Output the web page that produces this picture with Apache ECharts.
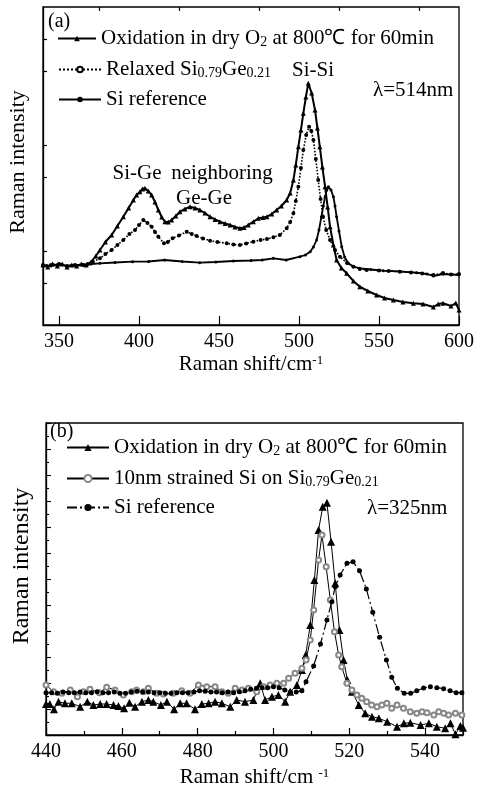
<!DOCTYPE html>
<html>
<head>
<meta charset="utf-8">
<script src="https://cdn.jsdelivr.net/npm/echarts@6/dist/echarts.min.js"></script>
<style>
  html, body { margin: 0; padding: 0; background: #fff; }
  #chart { width: 477px; height: 789px; }
</style>
</head>
<body>
<div id="chart"></div>
<script>
var FONT = 'Liberation Serif';

// ---- panel (a): 514 nm ----
var ticksA = [350, 400, 450, 500, 550, 600];
var minorTicksA = [375, 425, 475, 525, 575];
var yTicksA = [42, 74, 148, 180, 254, 286];

var oxA = [[340,60],[343,58],[346,61],[349,59],[352,61],[355,58],[358,60],[361,59],[364,61],[367,60],[370,63],[373,69],[375.6,75],[379,83],[382.9,90],[386.5,99],[390.2,108.3],[393.5,117],[396.5,125],[398.5,130],[400.6,133.3],[402.2,136],[403.7,136.7],[405.8,134],[407.9,130],[410,123],[412.1,115],[414.2,108],[416.2,103.3],[418.3,103],[420.4,105],[423,109],[425.6,113.3],[428.7,116],[431.9,118.3],[435,117],[438.1,115],[441.2,112],[444.4,108.3],[447.5,105.5],[450.6,103.3],[453.8,101.5],[456.9,100],[460,98],[463.1,96.7],[465.7,97.5],[468.3,100],[471.5,103.3],[474.6,106.7],[477.5,107.5],[480,108.3],[483,111],[486,115],[489,119],[492.3,125],[494.5,132],[496.5,145],[498,160],[499.6,178.3],[501.2,195],[502.7,211.7],[504.3,228],[505.8,241.7],[507.9,232],[510,215],[511.5,197],[513,178.3],[514.6,158],[516.3,138.3],[517.9,118],[519.4,98.3],[521.5,80],[523.5,65],[526.5,57],[529.8,51.7],[534,44],[538,38.3],[543,34],[548.5,30],[553.5,27],[559,25],[565,23],[571.5,21.7],[577.5,21],[584,18],[587,21],[590,21.7],[595,19],[598,22],[600,15]];

var relA = [[340,60],[345,60],[350,61],[355,59],[360,60],[365,60],[368,61],[371,63],[375.6,66.7],[379,71],[382.9,75],[386.5,80],[390.2,85],[394,91],[397.5,95],[400,100],[402.7,105],[405.3,102],[407.9,98.3],[410,93],[412.1,88.3],[415.6,81.7],[418,83],[421,86.7],[425,89.5],[429.8,93.3],[433,91],[436,89],[440,86.5],[444.4,84.3],[449,83],[454.8,81.7],[459,80.5],[463.1,80],[467,81.5],[471.5,83.3],[476,85],[480,86],[484,87.7],[488,90],[492.3,96.7],[494.5,103],[496.5,111.7],[498,124],[499.6,138.3],[501.2,157],[502.7,175],[504.5,190],[506.3,198.3],[507.7,194],[509,185],[510.5,166],[512,145],[513.5,126],[515,108.3],[517,95],[519.4,85],[522.5,75],[525.6,68.3],[530,62],[534,58.3],[538,56],[542.3,55],[550,54.5],[556,54],[563,53.3],[570,52.5],[577,51.5],[584,50],[590,52],[595,50.5],[600,51]];

var siA = [[340,60],[345,59],[350,61],[355,59],[360,60],[365,60],[370,61],[375.6,61.7],[385,62.5],[396,63.3],[406,63.5],[416,65],[427,63.5],[438,62.3],[448,63],[459,64],[470,64.5],[477,65],[484,66.7],[492,65],[500.6,68.3],[504,70],[507,73.3],[509,78],[511,85],[512.5,95],[514,108.3],[515.2,119],[516.3,128.3],[517.4,135],[518.4,138.3],[520,135],[521.5,128.3],[522.5,119],[523.5,108.3],[525,94],[526.7,78.3],[528.5,68],[530.8,61.7],[534,58.5],[538,56.7],[545,55.5],[552.7,54.3],[563,53.5],[573.5,52.3],[580,51],[584,49],[590,51],[595,50.5],[600,50]];

// ---- panel (b): 325 nm ----
var oxB = [[440,31],[441,31],[442.1,25.7],[443.3,33.3],[445,31.7],[446.8,31.7],[449,28.3],[450.9,33.3],[452.5,30],[454.3,31],[456,31],[457.8,30],[459.1,29],[460.6,26.7],[462,32.3],[463.5,28.3],[465.3,33.3],[467,35],[468.3,33.3],[470.3,30],[471.9,33.3],[473.8,25.7],[475.4,31.7],[477.1,31.7],[479.3,25.7],[481.1,31],[482.9,31.7],[484.6,33.3],[486.4,31.7],[488.6,28.3],[490.3,35],[492.5,33.3],[494.7,35],[496.5,51.7],[497.8,35],[499.6,38.3],[501.3,40],[503.1,33.3],[504.4,43.3],[506.2,50],[507.5,65],[508.5,80],[509.7,110],[510.8,155],[511.9,205],[513,228.3],[514.1,232.3],[515.2,193.3],[516.3,151.7],[517.4,105],[518.5,75],[519.5,55],[520.7,43.3],[522.5,30],[524.2,21.7],[526,18.3],[527.8,16.7],[530,13.3],[532.6,8.3],[534.4,11.7],[536.1,12.3],[538.8,10],[541,11.7],[543.1,8.3],[545.3,6.7],[546.7,11.7],[548,0.7],[549.3,9],[550,7.3]];

var strB = [[440,50],[442,43.3],[444.2,41.7],[446.4,45],[448.3,38.3],[449.9,43.3],[451.6,45.7],[454.1,42.3],[456,47.7],[458.2,45],[460.4,40],[462.6,43.3],[463.9,45],[465.7,43.3],[467,46.7],[469.2,41.7],[471,41],[473.6,41.7],[475.8,44.3],[478,41.7],[480.2,50],[482.4,48.3],[484.6,48.3],[486.4,43.3],[488.1,41.7],[489.9,46.7],[491.7,45],[493.4,46.7],[495.6,43.3],[497.4,48.3],[499.1,50],[500.9,51.7],[502.7,51.7],[504,56.7],[505.7,61.7],[507.5,66.7],[508.6,75],[509.7,95],[510.6,125],[511.9,175],[512.8,200],[513.9,168.3],[515,135],[516.1,103.3],[517.2,80],[518,68.3],[519.4,51.7],[520.7,45],[522,40],[523.3,36.7],[524.6,33.3],[525.9,30],[527.3,28.3],[528.6,30],[529.9,31.7],[531.2,26.7],[532.6,30],[534.3,26.7],[536.1,23.3],[537.8,21.7],[539.2,23.3],[540.5,22.3],[542.3,20],[543.6,23.3],[544.9,21.7],[546.2,20],[548,21.7],[549.7,20]];

var siB = [[440,42.3],[441.5,42.3],[443,41.7],[444.5,43],[446,42.3],[447.5,42.3],[449,43],[450.5,42.3],[452,42.3],[453.5,43.3],[455,42.3],[456.5,42.3],[458,43],[459.5,41.7],[461,41.7],[462.5,43],[464,43.7],[465.5,43],[467,43],[468.5,42.3],[470,42.3],[471.5,41.7],[473,41.7],[474.5,42.3],[476,42.3],[477.5,42.3],[479,43],[480.5,44.3],[482,43.7],[483.5,43],[485,43],[486.5,42.3],[488,43],[489.5,42.3],[491,43.3],[492.5,44.3],[494,45.7],[495.5,46.7],[497,47.3],[498.5,47.3],[500,48.3],[501.5,47.3],[503,45],[504.5,43],[506,43],[507.5,44.3],[508.6,53.3],[510.6,69],[512.4,91],[514.1,115],[515.4,133.3],[516.3,148.3],[517.6,160],[519.4,171.7],[521,173.3],[522.7,164.3],[524.5,146],[526.2,122.7],[528,97.7],[529.8,75],[531.2,57.7],[532.7,46.7],[534.5,41.7],[536.2,41.7],[537.8,44.3],[539.6,47],[541.4,48.3],[543.1,47.3],[544.9,46.3],[546.6,44.3],[548.2,42.3],[549.7,42.3]];

var legendA = [
  ['oxA', 'Oxidation in dry O{sub|2} at 800℃ for 60min'],
  ['relA', 'Relaxed Si{sub|0.79}Ge{sub|0.21}'],
  ['siA', 'Si reference']
];
var legendB = [
  ['oxB', 'Oxidation in dry O{sub|2} at 800℃ for 60min'],
  ['strB', '10nm strained Si on Si{sub|0.79}Ge{sub|0.21}'],
  ['siB', 'Si reference']
];

var chart = echarts.init(document.getElementById('chart'), null, { renderer: 'canvas' });

var richText = {
  sub: { fontSize: 14, fontFamily: FONT, color: '#000', verticalAlign: 'bottom', padding: [8, 0, 0, 0] },
  sup: { fontSize: 13, fontFamily: FONT, color: '#000', verticalAlign: 'top' }
};

// one legend block per row so each row sits where it does in the figure
function makeLegend(items, pos, h) {
  return items.map(function(it, i) {
    return {
      data: [it[0]],
      left: pos[i][0],
      top: pos[i][1],
      padding: 0,
      itemWidth: pos[i][2],
      itemHeight: h,
      selectedMode: false,
      formatter: function() { return it[1]; },
      textStyle: { fontFamily: FONT, fontSize: 21, color: '#000', rich: richText }
    };
  });
}

var axisLineStyle = { color: '#000', width: 1.3 };

var option = {
  backgroundColor: '#fff',
  animation: false,
  textStyle: { fontFamily: FONT },
  grid: [
    { left: 43, top: 7, width: 416, height: 318, show: true, borderColor: '#000', borderWidth: 1.3 },
    { left: 46, top: 423, width: 417, height: 312, show: true, borderColor: '#000', borderWidth: 1.3 }
  ],
  legend: makeLegend(legendA, [[57, 28, 38], [58, 59, 42], [58, 89, 42]], 7)
    .concat(makeLegend(legendB, [[66, 437, 42], [66, 468, 42], [66, 497, 42]], 9)),
  xAxis: [
    {
      type: 'value', gridIndex: 0, min: 340, max: 600,
      splitLine: { show: false },
      axisLine: { lineStyle: axisLineStyle },
      axisTick: { inside: true, length: 9, customValues: ticksA, lineStyle: { color: '#000', width: 1.2 } },
      axisLabel: { customValues: ticksA, margin: 7, fontSize: 20, fontFamily: FONT, color: '#000' },
      name: 'Raman shift/cm{sup|-1}', nameLocation: 'middle', nameGap: 29,
      nameTextStyle: { fontSize: 21, fontFamily: FONT, color: '#000', rich: richText }
    },
    {
      type: 'value', gridIndex: 0, min: 340, max: 600,
      splitLine: { show: false },
      axisLine: { show: false },
      axisTick: { inside: true, length: 4, customValues: minorTicksA, lineStyle: { color: '#000', width: 1.2 } },
      axisLabel: { show: false }
    },
    {
      type: 'value', gridIndex: 1, min: 440, max: 550, interval: 20,
      splitLine: { show: false },
      axisLine: { lineStyle: axisLineStyle },
      axisTick: { inside: true, length: 7, lineStyle: { color: '#000', width: 1.2 } },
      minorTick: { show: true, splitNumber: 2, length: 4, lineStyle: { color: '#000', width: 1.2 } },
      minorSplitLine: { show: false },
      axisLabel: { margin: 7, fontSize: 20, fontFamily: FONT, color: '#000', showMaxLabel: false },
      name: 'Raman shift/cm {sup|-1}', nameLocation: 'middle', nameGap: 32,
      nameTextStyle: { fontSize: 21, fontFamily: FONT, color: '#000', rich: richText }
    }
  ],
  yAxis: [
    {
      type: 'value', gridIndex: 0, min: 0, max: 318,
      splitLine: { show: false },
      axisLine: { lineStyle: axisLineStyle },
      axisTick: { inside: true, length: 4, customValues: yTicksA, lineStyle: { color: '#000', width: 1.2 } },
      axisLabel: { show: false }
    },
    {
      type: 'value', gridIndex: 1, min: 0, max: 312, interval: 26,
      splitLine: { show: false },
      axisLine: { lineStyle: axisLineStyle },
      axisTick: { inside: true, length: 5, lineStyle: { color: '#000', width: 1.1 } },
      minorTick: { show: true, splitNumber: 2, length: 3, lineStyle: { color: '#000', width: 1.1 } },
      minorSplitLine: { show: false },
      axisLabel: { show: false }
    }
  ],
  series: [
    {
      name: 'oxA', type: 'line', xAxisIndex: 0, yAxisIndex: 0, data: oxA,
      symbol: 'triangle', symbolSize: 5, itemStyle: { color: '#000' },
      lineStyle: { color: '#000', width: 2 }
    },
    {
      name: 'relA', type: 'line', xAxisIndex: 0, yAxisIndex: 0, data: relA,
      symbol: 'emptyCircle', symbolSize: 2, itemStyle: { color: '#000', borderWidth: 0.8 },
      lineStyle: { color: '#000', width: 1.6, type: 'dotted' }
    },
    {
      name: 'siA', type: 'line', xAxisIndex: 0, yAxisIndex: 0, data: siA,
      symbol: 'circle', symbolSize: 3, itemStyle: { color: '#000' },
      lineStyle: { color: '#000', width: 1.8 }
    },
    {
      name: 'oxB', type: 'line', xAxisIndex: 2, yAxisIndex: 1, data: oxB,
      symbol: 'triangle', symbolSize: 8, itemStyle: { color: '#000' },
      lineStyle: { color: '#000', width: 1 }
    },
    {
      name: 'strB', type: 'line', xAxisIndex: 2, yAxisIndex: 1, data: strB,
      symbol: 'emptyCircle', symbolSize: 5, itemStyle: { color: '#888', borderWidth: 1 },
      lineStyle: { color: '#000', width: 1 }
    },
    {
      name: 'siB', type: 'line', xAxisIndex: 2, yAxisIndex: 1, data: siB,
      symbol: 'circle', symbolSize: 5, itemStyle: { color: '#000' },
      lineStyle: { color: '#000', width: 1.2, type: [10, 3, 2, 3] }
    }
  ],
  graphic: [
    { type: 'text', x: 18, y: 162, rotation: Math.PI / 2,
      style: { text: 'Raman intensity', fontSize: 22, fontFamily: FONT, fill: '#000', align: 'center', verticalAlign: 'middle' } },
    { type: 'text', x: 22, y: 566, rotation: Math.PI / 2,
      style: { text: 'Raman intensity', fontSize: 24, fontFamily: FONT, fill: '#000', align: 'center', verticalAlign: 'middle' } },
    { type: 'text', x: 48, y: 22, style: { text: '(a)', fontSize: 20, fontFamily: FONT, fill: '#000', align: 'left', verticalAlign: 'middle' } },
    { type: 'text', x: 313, y: 70, style: { text: 'Si-Si', fontSize: 21, fontFamily: FONT, fill: '#000', align: 'center', verticalAlign: 'middle' } },
    { type: 'text', x: 373, y: 90, style: { text: 'λ=514nm', fontSize: 21, fontFamily: FONT, fill: '#000', align: 'left', verticalAlign: 'middle' } },
    { type: 'text', x: 137, y: 173, style: { text: 'Si-Ge', fontSize: 21, fontFamily: FONT, fill: '#000', align: 'center', verticalAlign: 'middle' } },
    { type: 'text', x: 222, y: 173, style: { text: 'neighboring', fontSize: 21, fontFamily: FONT, fill: '#000', align: 'center', verticalAlign: 'middle' } },
    { type: 'text', x: 204, y: 198, style: { text: 'Ge-Ge', fontSize: 21, fontFamily: FONT, fill: '#000', align: 'center', verticalAlign: 'middle' } },
    { type: 'text', x: 50, y: 432, style: { text: '(b)', fontSize: 20, fontFamily: FONT, fill: '#000', align: 'left', verticalAlign: 'middle' } },
    { type: 'text', x: 367, y: 508, style: { text: 'λ=325nm', fontSize: 21, fontFamily: FONT, fill: '#000', align: 'left', verticalAlign: 'middle' } }
  ]
};

chart.setOption(option);
</script>
</body>
</html>
